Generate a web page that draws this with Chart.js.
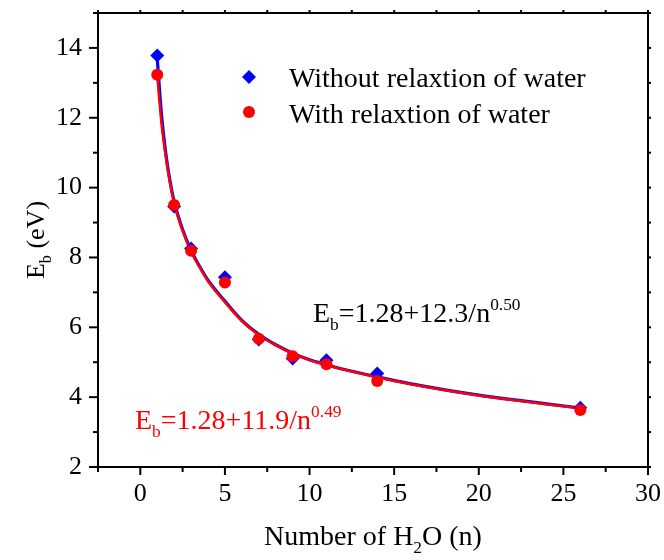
<!DOCTYPE html>
<html>
<head>
<meta charset="utf-8">
<script src="https://cdn.jsdelivr.net/npm/chart.js@4.4.0/dist/chart.umd.min.js"></script>
<style>
  body { margin: 0; background: #fff; }
</style>
</head>
<body>
<canvas id="myChart" width="664" height="560"></canvas>
<script>
'use strict';

// measured points
const nValues = [1, 2, 3, 5, 7, 9, 11, 14, 26];
const ebWithout = [13.78, 9.46, 8.26, 7.43, 5.65, 5.11, 5.06, 4.68, 3.70];
const ebWith = [13.23, 9.50, 8.19, 7.28, 5.67, 5.17, 4.94, 4.46, 3.63];

// fitted curves
const fitN = [1, 1.25, 1.5, 1.75, 2, 2.5, 3, 3.5, 4, 5, 6, 7, 8, 9, 10, 11, 12, 14, 16, 18, 20, 22, 24, 26];
const fitWithout = [13.7, 12.1, 11.0, 10.2, 9.6, 8.8, 8.2, 7.75, 7.35, 6.75, 6.2, 5.8, 5.5, 5.26, 5.07, 4.93, 4.8, 4.58, 4.38, 4.21, 4.06, 3.93, 3.81, 3.69];
const fitWith = [13.2, 11.85, 10.9, 10.15, 9.55, 8.76, 8.17, 7.72, 7.32, 6.72, 6.18, 5.78, 5.49, 5.25, 5.06, 4.92, 4.79, 4.57, 4.37, 4.2, 4.05, 3.92, 3.8, 3.68];

const xTicks = [0, 5, 10, 15, 20, 25, 30];
const yTicks = [2, 4, 6, 8, 10, 12, 14];

const FONT = "'Liberation Serif', 'Times New Roman', serif";
const BLUE = '#0000ff';
const RED = '#ff0000';

const toXY = (xs, ys) => xs.map((x, i) => ({ x: x, y: ys[i] }));

// draw text made of pieces, some sub- or superscript
function richWidth(ctx, parts, size) {
  let w = 0;
  parts.forEach(p => {
    const s = p.sub || p.sup ? size * 0.62 : size;
    ctx.font = s + 'px ' + FONT;
    w += ctx.measureText(p.t).width;
  });
  return w;
}
function drawRich(ctx, parts, x, y, size, color) {
  ctx.fillStyle = color;
  ctx.textBaseline = 'alphabetic';
  ctx.textAlign = 'left';
  parts.forEach(p => {
    let s = size, dy = 0;
    if (p.sub) { s = size * 0.62; dy = size * 0.28; }
    if (p.sup) { s = size * 0.62; dy = -size * 0.42; }
    ctx.font = s + 'px ' + FONT;
    ctx.fillText(p.t, x, y + dy);
    x += ctx.measureText(p.t).width;
  });
}

const decorPlugin = {
  id: 'decor',
  afterDraw(chart) {
    const ctx = chart.ctx;
    const xs = chart.scales.x, ys = chart.scales.y;
    const { left, right, top, bottom } = chart.chartArea;
    ctx.save();
    ctx.strokeStyle = '#000';
    ctx.lineWidth = 2;
    ctx.strokeRect(left, top, right - left, bottom - top);

    const tick = (x1, y1, x2, y2) => {
      ctx.beginPath(); ctx.moveTo(x1, y1); ctx.lineTo(x2, y2); ctx.stroke();
    };
    for (let v = xs.min; v <= xs.max + 0.01; v += 2.5) {
      const px = xs.getPixelForValue(v);
      const major = Math.abs(v % 5) < 0.01;
      tick(px, bottom, px, bottom + (major ? 8 : 5));
      tick(px, top, px, top - 3);
    }
    for (let v = ys.min; v <= ys.max + 0.01; v += 1) {
      const py = ys.getPixelForValue(v);
      const major = v % 2 === 0;
      tick(left, py, left - (major ? 9 : 5), py);
      tick(right, py, right + 3, py);
    }

    // legend
    const lx = 249;
    const ly1 = 77, ly2 = 112;
    ctx.fillStyle = BLUE;
    ctx.beginPath();
    ctx.moveTo(lx, ly1 - 7); ctx.lineTo(lx + 7, ly1); ctx.lineTo(lx, ly1 + 7); ctx.lineTo(lx - 7, ly1);
    ctx.closePath(); ctx.fill();
    ctx.fillStyle = RED;
    ctx.beginPath(); ctx.arc(lx, ly2, 6, 0, Math.PI * 2); ctx.fill();
    drawRich(ctx, [{ t: 'Without relaxtion of water' }], 289, 87, 28, '#000');
    drawRich(ctx, [{ t: 'With relaxtion of water' }], 289, 123, 28, '#000');

    // fit equations
    drawRich(ctx, [{ t: 'E' }, { t: 'b', sub: true }, { t: '=1.28+12.3/n' }, { t: '0.50', sup: true }], 313, 322, 28, '#000');
    drawRich(ctx, [{ t: 'E' }, { t: 'b', sub: true }, { t: '=1.28+11.9/n' }, { t: '0.49', sup: true }], 135, 429, 28, RED);

    // axis titles
    const xt = [{ t: 'Number of H' }, { t: '2', sub: true }, { t: 'O (n)' }];
    const xw = richWidth(ctx, xt, 28);
    drawRich(ctx, xt, (left + right) / 2 - xw / 2, 545, 28, '#000');

    const yt = [{ t: 'E' }, { t: 'b', sub: true }, { t: ' (eV)' }];
    const yw = richWidth(ctx, yt, 26);
    ctx.translate(44, (top + bottom) / 2);
    ctx.rotate(-Math.PI / 2);
    drawRich(ctx, yt, -yw / 2, 0, 26, '#000');
    ctx.restore();
  }
};

const ctx = document.getElementById('myChart').getContext('2d');

const myChart = new Chart(ctx, {
  type: 'scatter',
  data: {
    datasets: [
      {
        label: 'With relaxtion of water',
        data: toXY(nValues, ebWith),
        pointStyle: 'circle',
        pointRadius: 6,
        backgroundColor: RED,
        borderWidth: 0,
        order: 0
      },
      {
        label: 'Without relaxtion of water',
        data: toXY(nValues, ebWithout),
        pointStyle: 'rectRot',
        pointRadius: 7,
        backgroundColor: BLUE,
        borderWidth: 0,
        order: 1
      },
      {
        label: 'fit with',
        data: toXY(fitN, fitWith),
        showLine: true,
        pointRadius: 0,
        borderColor: RED,
        borderWidth: 2.5,
        cubicInterpolationMode: 'monotone',
        order: 2
      },
      {
        label: 'fit without',
        data: toXY(fitN, fitWithout),
        showLine: true,
        pointRadius: 0,
        borderColor: BLUE,
        borderWidth: 3.2,
        cubicInterpolationMode: 'monotone',
        order: 3
      }
    ]
  },
  options: {
    responsive: false,
    animation: false,
    layout: { padding: { top: 13, right: 16, left: 0, bottom: 0 } },
    plugins: {
      legend: { display: false },
      tooltip: { enabled: false }
    },
    scales: {
      x: {
        type: 'linear',
        min: -2.5,
        max: 30,
        afterBuildTicks: s => { s.ticks = xTicks.map(v => ({ value: v })); },
        afterFit: s => { s.height = 93; s.paddingLeft = 0; s.paddingRight = 0; },
        grid: { display: false, drawTicks: false },
        border: { display: false },
        ticks: { color: '#000', font: { family: FONT, size: 26 }, padding: 12, maxRotation: 0 }
      },
      y: {
        type: 'linear',
        min: 2,
        max: 15,
        afterBuildTicks: s => { s.ticks = yTicks.map(v => ({ value: v })); },
        afterFit: s => { s.width = 98; s.paddingTop = 0; s.paddingBottom = 0; },
        grid: { display: false, drawTicks: false },
        border: { display: false },
        ticks: { color: '#000', font: { family: FONT, size: 26 }, padding: 16 }
      }
    }
  },
  plugins: [decorPlugin]
});
</script>
</body>
</html>
